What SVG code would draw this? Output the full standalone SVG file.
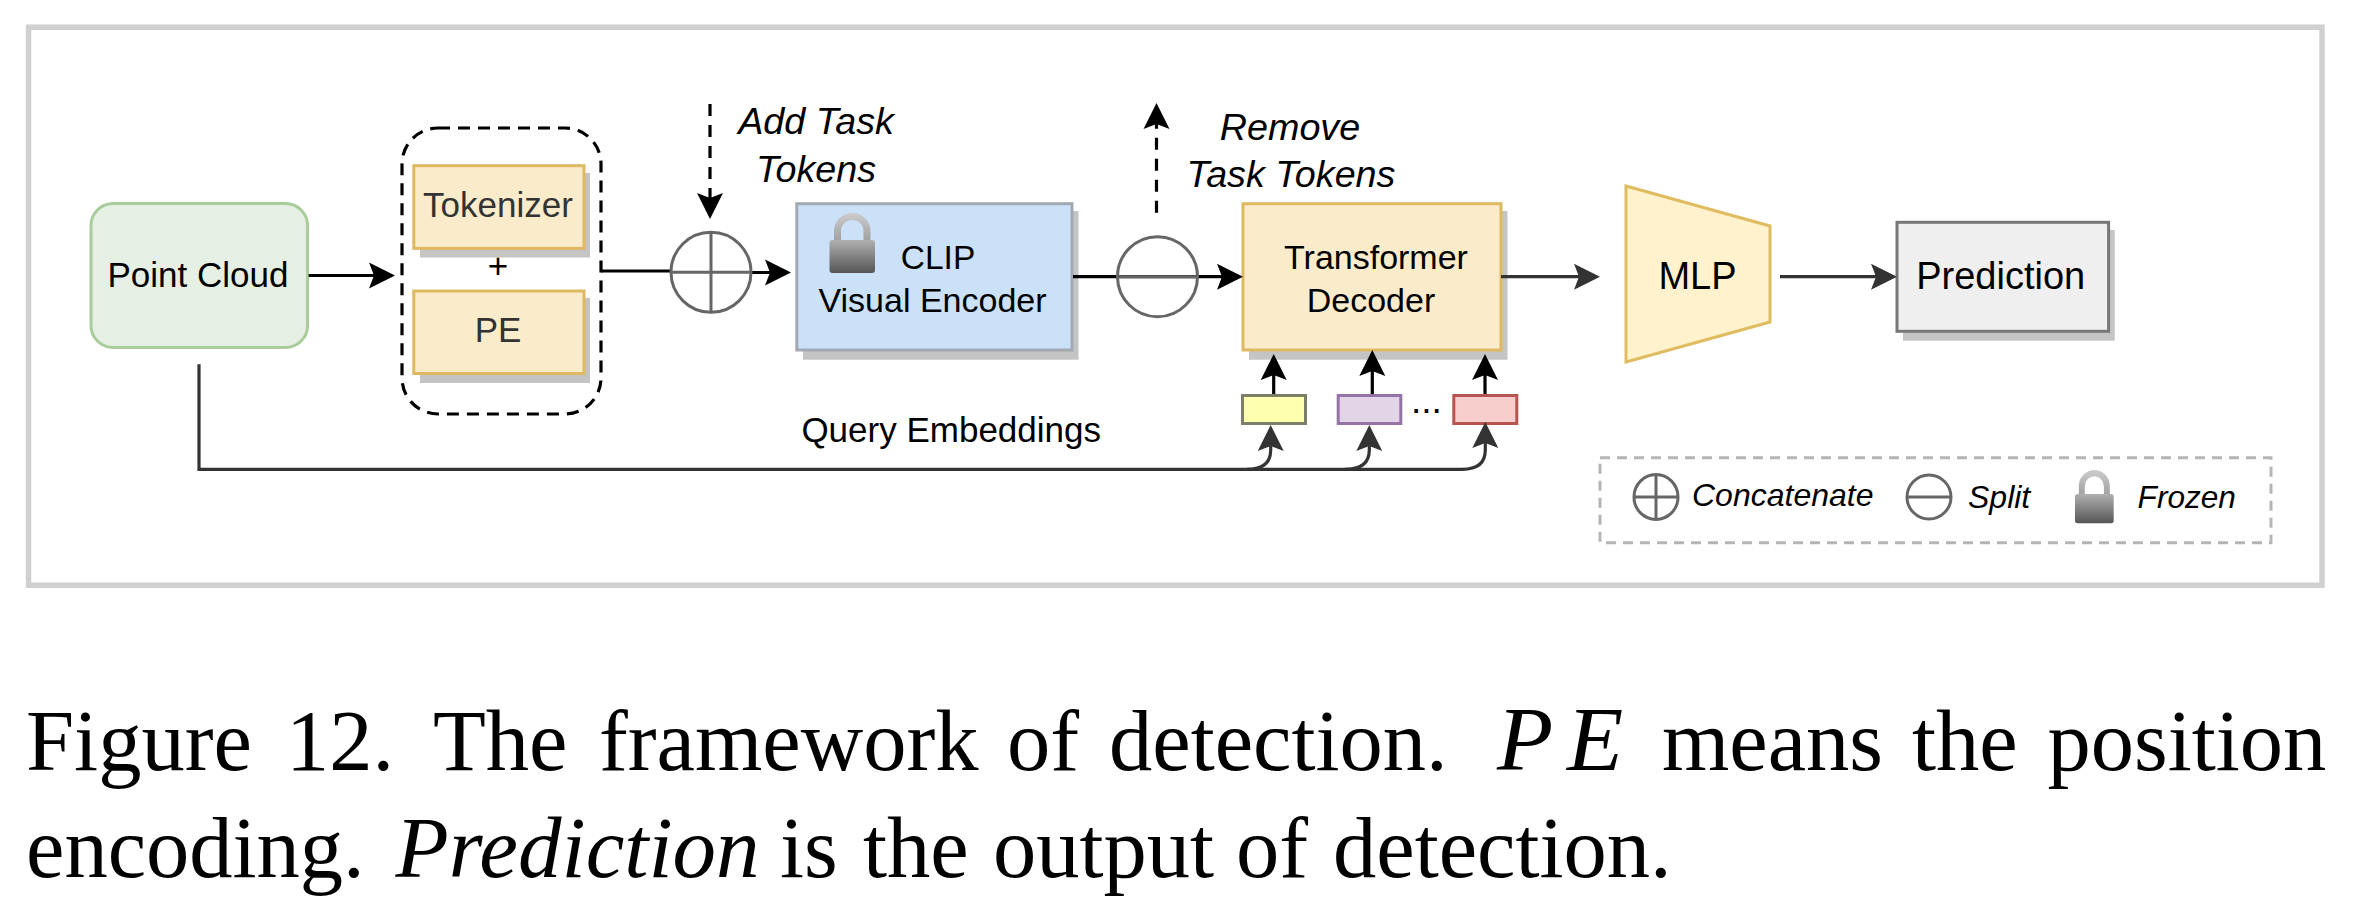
<svg xmlns="http://www.w3.org/2000/svg" width="2358" height="920" viewBox="0 0 2358 920">
<style>
text{font-family:"Liberation Sans",Arial,sans-serif;fill:#000}
.c{text-anchor:middle}
.i{font-style:italic}
.sh{fill:#c4c4c4}
.box{stroke-width:3}
.y{fill:#faecca;stroke:#dfb962}
.op{fill:none;stroke:#666;stroke-width:3}
.k{fill:none;stroke:#000;stroke-width:3.2}
.g{fill:none;stroke:#333;stroke-width:3.2}
.dash{stroke-dasharray:12 9}
.cap{font-family:"Liberation Serif","Times New Roman",serif;font-size:86.5px;fill:#000}
</style>
<defs>
<marker id="ak" markerUnits="userSpaceOnUse" markerWidth="28" markerHeight="28" viewBox="0 -14 28 28" refX="18" refY="0" orient="auto"><path d="M0,-13L26,0L0,13L5,0Z" fill="#000"/></marker>
<marker id="ag" markerUnits="userSpaceOnUse" markerWidth="28" markerHeight="28" viewBox="0 -14 28 28" refX="18" refY="0" orient="auto"><path d="M0,-13L26,0L0,13L5,0Z" fill="#333"/></marker>
<linearGradient id="lb" x1="0" y1="0" x2="0" y2="1"><stop offset="0" stop-color="#b0b0b0"/><stop offset="1" stop-color="#555"/></linearGradient>
<linearGradient id="ls" gradientUnits="userSpaceOnUse" x1="0" y1="0" x2="0" y2="28"><stop offset="0" stop-color="#ccc"/><stop offset="1" stop-color="#a0a0a0"/></linearGradient>
<g id="lock"><path d="M8,28V18.25A14.75,14.75 0 0 1 37.5,18.25V28" fill="none" stroke="url(#ls)" stroke-width="7"/><rect x="0" y="27" width="45.5" height="33" rx="3" fill="url(#lb)"/></g>
</defs>
<rect id="frame" x="28.5" y="27.2" width="2293.5" height="558" fill="#fff" stroke="#d0d0d0" stroke-width="5.5"/>

<g id="point-cloud"><rect x="91" y="203.6" width="216.6" height="143.9" rx="22" fill="#e6efe4" stroke="#a9cc9b" stroke-width="3"/><text class="c" x="198" y="287" font-size="35">Point Cloud</text></g>

<g id="embedding-group"><rect x="402" y="128" width="199" height="286" rx="36" fill="none" stroke="#000" stroke-width="3.2" stroke-dasharray="12 8"/></g>
<g id="tokenizer"><rect class="sh" x="420" y="173" width="170" height="84.5"/><rect class="box y" x="413.8" y="165.7" width="170.2" height="82.7"/><text class="c" x="498" y="217" font-size="35" style="fill:#333">Tokenizer</text></g>
<text id="plus" class="c" x="498" y="278" font-size="35">+</text>
<g id="pe"><rect class="sh" x="420" y="298" width="170" height="85"/><rect class="box y" x="413.8" y="291" width="170.2" height="82.5"/><text class="c" x="498" y="342" font-size="35" style="fill:#333">PE</text></g>

<g id="clip"><rect class="sh" x="803" y="211" width="275.5" height="148.7"/><rect class="box" x="796.8" y="203.7" width="275.2" height="146.3" fill="#cbe1f7" stroke="#a2a9b1"/><use href="#lock" x="829.5" y="213"/><text class="c" x="938" y="269" font-size="33.5">CLIP</text><text class="c" x="932.5" y="312" font-size="34">Visual Encoder</text></g>

<g id="decoder"><rect class="sh" x="1249" y="211" width="258.5" height="148.7"/><rect class="box y" x="1243" y="203.7" width="258" height="146.3"/><text class="c" x="1376" y="269" font-size="34">Transformer</text><text class="c" x="1371" y="312" font-size="34">Decoder</text></g>

<g id="query-1"><rect x="1242.5" y="395.5" width="63" height="28" fill="#ffffb0" stroke="#7c8068" stroke-width="3"/></g>
<g id="query-2"><rect x="1338.2" y="395.5" width="62.6" height="28" fill="#e1d5e7" stroke="#9673a6" stroke-width="3"/></g>
<g id="query-3"><rect x="1453.8" y="395.5" width="63" height="28" fill="#f8cecc" stroke="#b85450" stroke-width="3"/></g>

<g id="mlp"><path d="M1626,186L1770,226V322L1626,362Z" fill="#fff2cc" stroke="#e0bc60" stroke-width="3"/><text class="c" x="1697.5" y="289.3" font-size="38">MLP</text></g>

<g id="prediction"><rect class="sh" x="1903" y="230" width="211.7" height="110.7"/><rect class="box" x="1897" y="222.3" width="211.6" height="109" fill="#efefef" stroke="#777"/><text class="c" x="2000.7" y="289" font-size="38">Prediction</text></g>

<g id="connectors">
<path class="k" d="M308.7,275.5H387" marker-end="url(#ak)"/>
<path class="k" d="M601,271H672"/>
<path class="k" d="M750,272.5H783" marker-end="url(#ak)"/>
<path class="k dash" d="M710,104V211" marker-end="url(#ak)"/>
<path class="k" d="M1073,276.7H1235" marker-end="url(#ak)"/>
<path class="k dash" d="M1156.5,212.7V111" marker-end="url(#ak)"/>
<path class="g" d="M1501,276.7H1592" marker-end="url(#ag)"/>
<path class="g" d="M1780,276.7H1889" marker-end="url(#ag)"/>
<path class="k" d="M1273.7,394V362" marker-end="url(#ak)"/>
<path class="k" d="M1372.3,394V358" marker-end="url(#ak)"/>
<path class="k" d="M1485,394V362" marker-end="url(#ak)"/>
<path class="g" d="M199,364.3V469.3H1462Q1485.3,469.3 1485.3,450V430" marker-end="url(#ag)"/>
<path class="g" d="M1247,469.3Q1270.7,469.3 1270.7,450V433" marker-end="url(#ag)"/>
<path class="g" d="M1345,469.3Q1369.3,469.3 1369.3,450V433" marker-end="url(#ag)"/>
</g>

<g id="concat"><circle class="op" cx="711" cy="272.3" r="40"/><path class="op" d="M671,272.3H751M711,232.3V312.3"/></g>
<g id="split"><circle class="op" cx="1157.5" cy="276.7" r="40"/><path class="op" d="M1117.5,276.7H1197.5"/></g>

<g id="add-label"><text class="c i" x="816" y="134" font-size="37.7">Add Task</text><text class="c i" x="816" y="181.7" font-size="37.7">Tokens</text></g>
<g id="remove-label"><text class="c i" x="1290" y="140" font-size="37.7">Remove</text><text class="c i" x="1291" y="187" font-size="37.7">Task Tokens</text></g>
<text id="dots" x="1411" y="413" font-size="37">...</text>
<text id="query-label" x="801.4" y="442" font-size="35">Query Embeddings</text>

<g id="legend">
<rect x="1600" y="457.7" width="671" height="85" fill="none" stroke="#b5b5b5" stroke-width="3" stroke-dasharray="10 7"/>
<ellipse class="op" cx="1656" cy="497" rx="22" ry="22.5"/><path class="op" d="M1634,497H1678M1656,474.5V519.5"/>
<text class="i" x="1692" y="506" font-size="32">Concatenate</text>
<circle class="op" cx="1929" cy="497" r="22"/><path class="op" d="M1907,497H1951"/>
<text class="i" x="1968" y="508" font-size="32">Split</text>
<use href="#lock" transform="translate(2075,470) scale(.85,.888)"/>
<text class="i" x="2137.6" y="508" font-size="31.6">Frozen</text>
</g>

<g id="caption">
<text class="cap" y="770"><tspan x="26">Figure</tspan><tspan x="286">12.</tspan><tspan x="433">The</tspan><tspan x="599">framework</tspan><tspan x="1007">of</tspan><tspan x="1109">detection.</tspan><tspan x="1662">means</tspan><tspan x="1912">the</tspan><tspan x="2047.5">position</tspan></text>
<text class="cap i" x="1497 1567" y="770" style="font-size:92px">PE</text>
<text class="cap" y="876.7"><tspan x="26">encoding.</tspan><tspan x="395.6" font-style="italic" style="font-size:87px">Prediction</tspan><tspan x="780">is</tspan><tspan x="863">the</tspan><tspan x="993">output</tspan><tspan x="1236">of</tspan><tspan x="1333">detection.</tspan></text>
</g>
</svg>
